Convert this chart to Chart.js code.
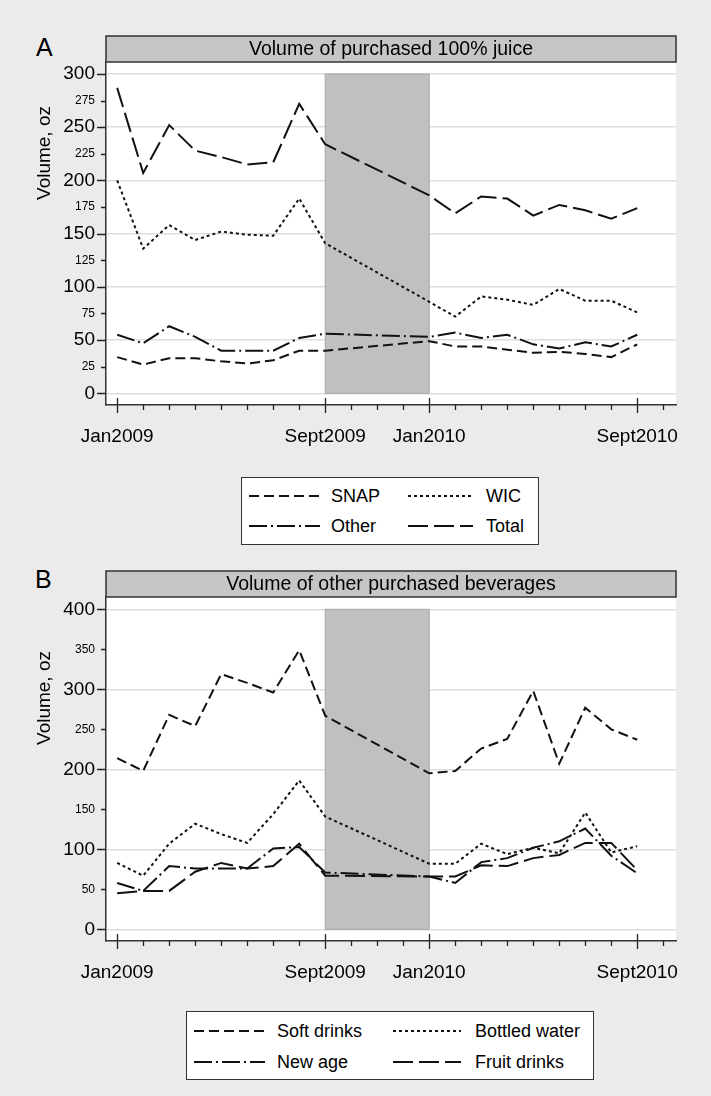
<!DOCTYPE html>
<html>
<head>
<meta charset="utf-8">
<script src="https://cdn.jsdelivr.net/npm/chart.js@4"></script>
<style>
    body { margin: 0; background: #ebebeb; font-family: 'Liberation Sans', Arial, sans-serif; }
    #page { position: relative; width: 711px; height: 1096px; overflow: hidden; }
    canvas { position: absolute; left: 0; }
    .letter { position: absolute; font-size: 25px; line-height: 29px; color: #000; }
    .legend { position: absolute; background: #fff; border: 1.5px solid #333; box-sizing: border-box; }
    .legend .lab { position: absolute; font-size: 18px; line-height: 20px; color: #000; white-space: nowrap; }
    .legend svg { position: absolute; overflow: visible; }
</style>
</head>
<body>
<div id="page">
    <div class="letter" style="left:36px;top:33px">A</div>
    <canvas id="chartA" width="711" height="450" style="top:0"></canvas>
    <div class="legend" id="legendA" style="left:241px;top:477px;width:298px;height:68px"></div>

    <div class="letter" style="left:35px;top:565px">B</div>
    <canvas id="chartB" width="711" height="436" style="top:550px"></canvas>
    <div class="legend" id="legendB" style="left:186px;top:1011px;width:408px;height:69px"></div>
</div>
<script>
// months since Jan2009 (no data between Sept2009 and Jan2010)
const months = [0, 1, 2, 3, 4, 5, 6, 7, 8, 12, 13, 14, 15, 16, 17, 18, 19, 20];

// panel A - 100% juice
const namesA = ['SNAP', 'WIC', 'Other', 'Total'];
const snap  = [34, 27, 33, 33, 30, 28, 31, 40, 40, 49, 44, 44, 41, 38, 39, 37, 34, 46];
const wic   = [200, 136, 158, 144, 152, 149, 148, 183, 141, 86, 72, 91, 88, 83, 98, 87, 87, 76];
const other = [55, 47, 63, 53, 40, 40, 40, 52, 56, 53, 57, 52, 55, 46, 42, 48, 44, 55];
const total = [287, 207, 252, 228, 222, 215, 217, 272, 234, 186, 169, 185, 183, 167, 177, 172, 164, 174];

// panel B - other beverages
const namesB = ['Soft drinks', 'Bottled water', 'New age', 'Fruit drinks'];
const softDrinks   = [214, 198, 268, 254, 319, 308, 296, 349, 267, 195, 198, 226, 238, 298, 207, 277, 250, 237];
const bottledWater = [83, 67, 107, 132, 119, 108, 144, 186, 141, 82, 82, 107, 94, 102, 95, 146, 96, 104];
const newAge       = [58, 48, 79, 76, 76, 76, 101, 103, 71, 66, 58, 84, 89, 102, 110, 126, 92, 70];
const fruitDrinks  = [45, 48, 48, 72, 83, 76, 79, 107, 67, 66, 66, 80, 79, 89, 93, 108, 108, 74];

const xTickMonths = [0, 8, 12, 20];
const xTickLabels = ['Jan2009', 'Sept2009', 'Jan2010', 'Sept2010'];
const yTicksA = [0, 25, 50, 75, 100, 125, 150, 175, 200, 225, 250, 275, 300];
const yTicksB = [0, 50, 100, 150, 200, 250, 300, 350, 400];

const FONT = "'Liberation Sans', Arial, sans-serif";
const dashes = [[10, 5], [3, 3], [18, 4, 2, 4], [20, 6]];

const framePlugin = {
    id: 'frame',
    beforeDraw(chart, args, o) {
        const ctx = chart.ctx, a = chart.chartArea;
        ctx.save();
        ctx.fillStyle = '#fff';
        ctx.fillRect(a.left, a.top, a.right - a.left, a.bottom - a.top);
        // title strip
        ctx.fillStyle = '#c6c6c6';
        ctx.fillRect(a.left, a.top - 26, a.right - a.left, 26);
        ctx.strokeStyle = '#333';
        ctx.lineWidth = 1.5;
        ctx.strokeRect(a.left, a.top - 26, a.right - a.left, 26);
        ctx.fillStyle = '#000';
        ctx.font = '19.5px ' + FONT;
        ctx.textAlign = 'center';
        ctx.textBaseline = 'middle';
        ctx.fillText(o.title, (a.left + a.right) / 2, a.top - 12);
        ctx.restore();
    },
    beforeDatasetsDraw(chart, args, o) {
        const ctx = chart.ctx, x = chart.scales.x, y = chart.scales.y;
        const x0 = x.getPixelForValue(8), x1 = x.getPixelForValue(12);
        const y0 = y.getPixelForValue(o.shadeTop), y1 = y.getPixelForValue(0);
        ctx.save();
        ctx.fillStyle = '#c0c0c0';
        ctx.fillRect(x0, y0, x1 - x0, y1 - y0);
        ctx.strokeStyle = '#a8a8a8';
        ctx.lineWidth = 1;
        ctx.strokeRect(x0, y0, x1 - x0, y1 - y0);
        ctx.restore();
    },
    afterDraw(chart, args, o) {
        const ctx = chart.ctx, a = chart.chartArea, x = chart.scales.x, y = chart.scales.y;
        ctx.save();
        ctx.strokeStyle = '#222';
        ctx.lineWidth = 1.3;
        ctx.beginPath();
        for (let m = 0; m <= 21; m++) {
            const px = Math.round(x.getPixelForValue(m)) + 0.5;
            if (xTickMonths.includes(m)) {
                ctx.moveTo(px, a.bottom - 7);
                ctx.lineTo(px, a.bottom + 8);
            } else {
                ctx.moveTo(px, a.bottom);
                ctx.lineTo(px, a.bottom + 5);
            }
        }
        o.yTicks.forEach(v => {
            const py = Math.round(y.getPixelForValue(v)) + 0.5;
            const len = v % o.major === 0 ? 9 : 5;
            ctx.moveTo(a.left - len, py);
            ctx.lineTo(a.left, py);
        });
        ctx.stroke();
        // y axis title
        ctx.translate(45, o.yTitleY);
        ctx.rotate(-Math.PI / 2);
        ctx.fillStyle = '#000';
        ctx.font = '19px ' + FONT;
        ctx.textAlign = 'center';
        ctx.textBaseline = 'middle';
        ctx.fillText('Volume, oz', 0, 0);
        ctx.restore();
    }
};

function makeChart(id, names, values, cfg) {
    const datasets = names.map((name, i) => ({
        label: name,
        data: months.map((m, j) => ({ x: m, y: values[i][j] })),
        borderColor: '#111',
        borderWidth: 2,
        borderDash: dashes[i],
        pointRadius: 0,
        fill: false,
        tension: 0
    }));

    return new Chart(document.getElementById(id).getContext('2d'), {
        type: 'line',
        data: { datasets: datasets },
        plugins: [framePlugin],
        options: {
            responsive: false,
            animation: false,
            devicePixelRatio: 1,
            layout: { padding: { top: cfg.top, right: 35, left: 0, bottom: 0 } },
            scales: {
                x: {
                    type: 'linear',
                    min: -0.43,
                    max: 21.49,
                    afterFit: s => { s.height = 45; },
                    afterBuildTicks: s => { s.ticks = xTickMonths.map(v => ({ value: v })); },
                    grid: { display: false },
                    border: { display: true, color: '#333', width: 1.5 },
                    ticks: {
                        autoSkip: false,
                        maxRotation: 0,
                        padding: 12,
                        color: '#000',
                        font: { size: 19, family: FONT },
                        callback: v => xTickLabels[xTickMonths.indexOf(v)] || ''
                    }
                },
                y: {
                    min: cfg.yMin,
                    max: cfg.yMax,
                    afterFit: s => { s.width = 106; },
                    afterBuildTicks: s => { s.ticks = cfg.yTicks.map(v => ({ value: v })); },
                    grid: {
                        drawTicks: false,
                        lineWidth: 1.5,
                        color: c => (c.tick && c.tick.value % cfg.major === 0) ? '#dddddd' : 'rgba(0,0,0,0)'
                    },
                    border: { display: true, color: '#333', width: 1.5 },
                    ticks: {
                        padding: 11,
                        color: '#000',
                        font: c => ({ size: (c.tick && c.tick.value % cfg.major === 0) ? 19 : 12, family: FONT })
                    }
                }
            },
            plugins: {
                legend: { display: false },
                tooltip: { enabled: false },
                frame: {
                    title: cfg.title,
                    shadeTop: cfg.shadeTop,
                    yTicks: cfg.yTicks,
                    major: cfg.major,
                    yTitleY: cfg.yTitleY
                }
            }
        }
    });
}

function makeLegend(id, names, cols) {
    const box = document.getElementById(id);
    names.forEach((name, i) => {
        const c = cols[i];
        const svg = document.createElementNS('http://www.w3.org/2000/svg', 'svg');
        svg.setAttribute('width', c.w);
        svg.setAttribute('height', 4);
        svg.style.left = c.x + 'px';
        svg.style.top = (c.y - 2) + 'px';
        const ln = document.createElementNS('http://www.w3.org/2000/svg', 'line');
        ln.setAttribute('x1', 0); ln.setAttribute('x2', c.w);
        ln.setAttribute('y1', 2); ln.setAttribute('y2', 2);
        ln.setAttribute('stroke', '#111');
        ln.setAttribute('stroke-width', 2);
        ln.setAttribute('stroke-dasharray', dashes[i].join(' '));
        svg.appendChild(ln);
        box.appendChild(svg);
        const lab = document.createElement('div');
        lab.className = 'lab';
        lab.textContent = name;
        lab.style.left = c.lx + 'px';
        lab.style.top = (c.y - 10) + 'px';
        box.appendChild(lab);
    });
}

makeChart('chartA', namesA, [snap, wic, other, total], {
    top: 62, yMin: -11, yMax: 311.3, yTicks: yTicksA, major: 50, shadeTop: 300,
    title: 'Volume of purchased 100% juice', yTitleY: 153
});
makeChart('chartB', namesB, [softDrinks, bottledWater, newAge, fruitDrinks], {
    top: 47, yMin: -14.6, yMax: 415.4, yTicks: yTicksB, major: 100, shadeTop: 400,
    title: 'Volume of other purchased beverages', yTitleY: 148
});

makeLegend('legendA', namesA, [
    { x: 7, w: 71, lx: 89, y: 18 },
    { x: 166, w: 65, lx: 244, y: 18 },
    { x: 7, w: 71, lx: 89, y: 48 },
    { x: 166, w: 65, lx: 244, y: 48 }
]);
makeLegend('legendB', namesB, [
    { x: 7, w: 71, lx: 90, y: 19 },
    { x: 206, w: 68, lx: 288, y: 19 },
    { x: 7, w: 71, lx: 90, y: 50 },
    { x: 206, w: 68, lx: 288, y: 50 }
]);
</script>
</body>
</html>
